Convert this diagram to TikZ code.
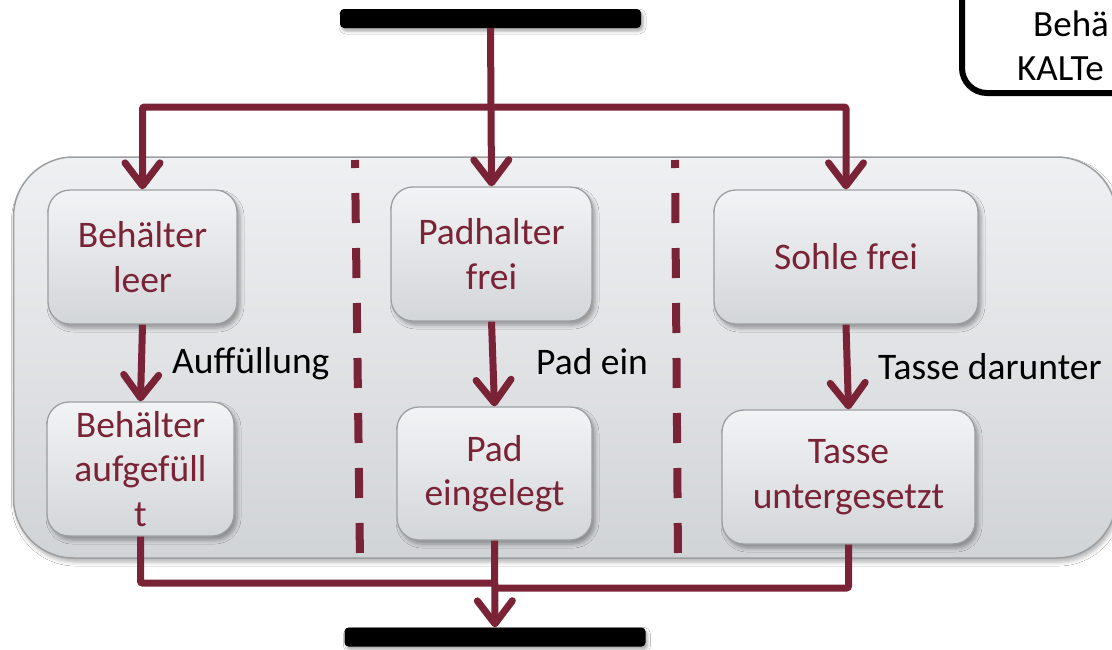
\documentclass[tikz,border=0pt]{standalone}
\usepackage{fontspec}
\setmainfont{Carlito}
\usetikzlibrary{arrows.meta,shadows,shadows.blur}
\definecolor{wine}{HTML}{7A2337}
\definecolor{boxtop}{HTML}{F2F3F5}
\definecolor{boxbot}{HTML}{D3D6D9}
\definecolor{paneltop}{HTML}{EFF0F2}
\definecolor{panelbot}{HTML}{D1D4D7}
\definecolor{rimgray}{HTML}{9C9FA2}
\tikzset{
  panelbox/.style={draw=rimgray, line width=1.5pt, rounded corners=60pt,
    top color=paneltop, bottom color=panelbot, inner sep=0pt,
    blur shadow={shadow xshift=2pt, shadow yshift=-4pt, shadow opacity=30, shadow blur radius=4pt}},
  state/.style={draw=rimgray, line width=1.3pt, rounded corners=22pt,
    top color=boxtop, bottom color=boxbot, text=wine,
    font=\fontsize{37.5}{44.5}\selectfont, align=center, inner sep=0pt,
    blur shadow={shadow xshift=3pt, shadow yshift=-4pt, shadow opacity=35, shadow blur radius=4pt}},
  bar/.style={fill=black, rounded corners=4pt, inner sep=0pt,
    minimum width=301pt, minimum height=19pt,
    blur shadow={shadow xshift=2pt, shadow yshift=-3pt, shadow opacity=35, shadow blur radius=3pt}},
  flow/.style={draw=wine, line width=7pt, rounded corners=2pt},
  arr/.style={flow, -{Straight Barb[length=23pt,width=35pt,line cap=round,line join=round]}},
  lbl/.style={font=\fontsize{37.5}{44.5}\selectfont, anchor=base west, inner sep=0pt, text=black},
  notetxt/.style={font=\fontsize{37}{44}\selectfont, anchor=base west, inner sep=0pt, text=black},
  sepline/.style={draw=wine, line width=8pt, dash pattern=on 30pt off 25pt, dash phase=22pt}
}
\begin{document}
\begin{tikzpicture}[x=1pt,y=-1pt]
\clip (0,0) rectangle (1112,649);
\fill[white] (0,0) rectangle (1112,649);

% container panel
\node[panelbox, minimum width=1103pt, minimum height=401pt] (panel) at (565,357.5) {};

% separators
\draw[sepline] (355,160) -- (360,560);
\draw[sepline] (675,160) -- (678,560);

% note box (top right, cut off)
\node[draw=black, line width=6pt, fill=white, rounded corners=25pt, inner sep=0pt,
      minimum width=300pt, minimum height=200pt] (note) at (1112,-7) {};
\node[notetxt] (n1) at (1033,36) {Behä};
\node[notetxt] (n2) at (1017,80) {KALTe};

% bars
\node[bar] (top) at (490.5,18.5) {};
\node[bar] (bot) at (495,637) {};

% states
\node[state, minimum width=189pt, minimum height=134pt] (b1) at (142.5,257) {Behälter\\leer};
\node[state, minimum width=187pt, minimum height=134pt] (b2) at (140.5,469) {Behälter\\aufgefüll\\t};
\node[state, minimum width=201pt, minimum height=134pt] (p1) at (491.5,254) {Padhalter\\frei};
\node[state, minimum width=195pt, minimum height=133pt] (p2) at (494.5,473.5) {Pad\\eingelegt};
\node[state, minimum width=264pt, minimum height=134pt] (s1) at (846,257) {Sohle frei};
\node[state, minimum width=253pt, minimum height=134pt] (s2) at (848.5,477) {Tasse\\untergesetzt};

% labels
\node[lbl] (l1) at (172,373) {Auffüllung};
\node[lbl] (l2) at (536,374) {Pad ein};
\node[lbl] (l3) at (878,379) {Tasse darunter};

% fork
\coordinate (split) at (491,107);
\draw[arr] (top.south) -- (p1.north);
\draw[arr] (split) -| (b1.north);
\draw[arr] (split) -| (s1.north);

% transitions
\draw[arr] (b1.south) -- (b2.north);
\draw[arr] (p1.south) -- (p2.north);
\draw[arr] (s1.south) -- (s2.north);

% join
\coordinate (mergeL) at (495,583);
\coordinate (mergeR) at (495,588);
\draw[flow] (b2.south) |- (mergeL);
\draw[flow] (s2.south) |- (mergeR);
\draw[arr] (p2.south) -- (bot.north);
\end{tikzpicture}
\end{document}
